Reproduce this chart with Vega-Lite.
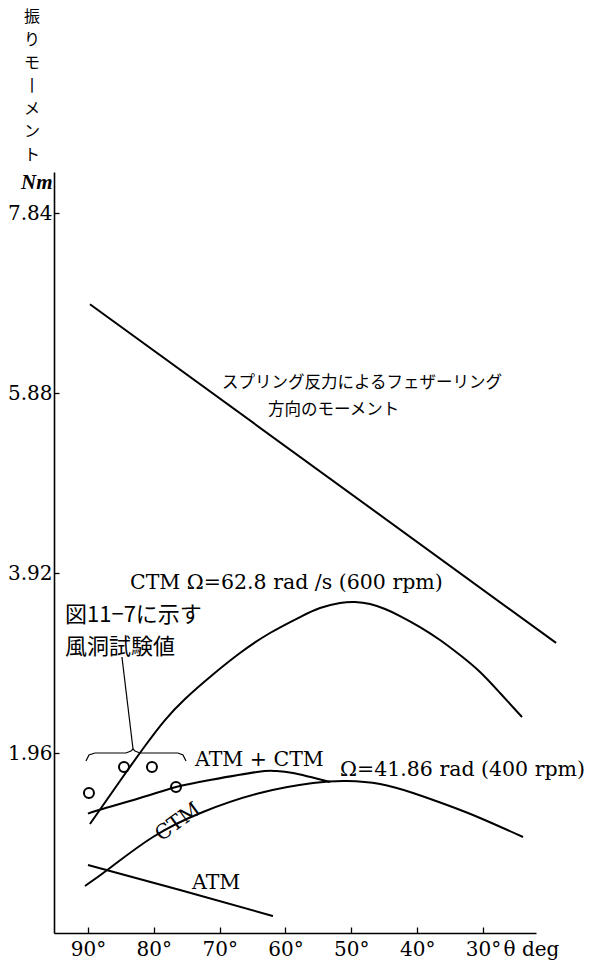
{
  "$schema": "https://vega.github.io/schema/vega-lite/v6.json",
  "width": 482,
  "height": 761,
  "autosize": {"type": "none"},
  "padding": {"left": 54, "top": 172, "right": 80, "bottom": 27},
  "background": "white",
  "config": {
    "view": {"stroke": null},
    "axis": {
      "grid": false,
      "domainColor": "black",
      "domainWidth": 1.6,
      "tickColor": "black",
      "tickWidth": 1.3,
      "labelColor": "black",
      "labelFont": "DejaVu Serif",
      "labelFontSize": 20,
      "titleColor": "black",
      "titleFont": "DejaVu Serif",
      "titleFontWeight": "normal",
      "titleFontSize": 20,
      "labelFlush": false,
      "labelOverlap": false
    }
  },
  "title": {
    "text": ["振", "り", "モ", "丨", "メ", "ン", "ト"],
    "anchor": "start",
    "frame": "group",
    "align": "center",
    "dx": -22,
    "offset": 8,
    "font": "Noto Sans CJK JP",
    "fontSize": 16,
    "fontWeight": "normal",
    "lineHeight": 23,
    "color": "black"
  },
  "datasets": {
    "curves": [
      {"s": "spring", "theta": 89.7, "v": 6.85},
      {"s": "spring", "theta": 18.9, "v": 3.16},

      {"s": "ctm600", "theta": 89.7, "v": 1.187},
      {"s": "ctm600", "theta": 85.14, "v": 1.656},
      {"s": "ctm600", "theta": 81.34, "v": 2.037},
      {"s": "ctm600", "theta": 78.3, "v": 2.32},
      {"s": "ctm600", "theta": 75.26, "v": 2.549},
      {"s": "ctm600", "theta": 71.47, "v": 2.789},
      {"s": "ctm600", "theta": 66.91, "v": 3.05},
      {"s": "ctm600", "theta": 62.35, "v": 3.268},
      {"s": "ctm600", "theta": 57.79, "v": 3.442},
      {"s": "ctm600", "theta": 54.76, "v": 3.54},
      {"s": "ctm600", "theta": 51.72, "v": 3.595},
      {"s": "ctm600", "theta": 49.44, "v": 3.606},
      {"s": "ctm600", "theta": 47.16, "v": 3.584},
      {"s": "ctm600", "theta": 44.88, "v": 3.529},
      {"s": "ctm600", "theta": 42.6, "v": 3.453},
      {"s": "ctm600", "theta": 39.57, "v": 3.333},
      {"s": "ctm600", "theta": 36.53, "v": 3.192},
      {"s": "ctm600", "theta": 33.49, "v": 3.028},
      {"s": "ctm600", "theta": 30.45, "v": 2.843},
      {"s": "ctm600", "theta": 27.41, "v": 2.614},
      {"s": "ctm600", "theta": 24.07, "v": 2.353},

      {"s": "atmctm", "theta": 90.0, "v": 1.3},
      {"s": "atmctm", "theta": 88.33, "v": 1.34},
      {"s": "atmctm", "theta": 82.1, "v": 1.47},
      {"s": "atmctm", "theta": 76.63, "v": 1.59},
      {"s": "atmctm", "theta": 71.47, "v": 1.667},
      {"s": "atmctm", "theta": 64.33, "v": 1.754},
      {"s": "atmctm", "theta": 61.59, "v": 1.765},
      {"s": "atmctm", "theta": 58.86, "v": 1.743},
      {"s": "atmctm", "theta": 53.24, "v": 1.645},

      {"s": "ctm400", "theta": 90.46, "v": 0.512},
      {"s": "ctm400", "theta": 86.66, "v": 0.708},
      {"s": "ctm400", "theta": 80.13, "v": 1.046},
      {"s": "ctm400", "theta": 72.53, "v": 1.318},
      {"s": "ctm400", "theta": 63.87, "v": 1.525},
      {"s": "ctm400", "theta": 55.82, "v": 1.634},
      {"s": "ctm400", "theta": 50.66, "v": 1.656},
      {"s": "ctm400", "theta": 45.64, "v": 1.623},
      {"s": "ctm400", "theta": 40.63, "v": 1.525},
      {"s": "ctm400", "theta": 35.46, "v": 1.394},
      {"s": "ctm400", "theta": 30.45, "v": 1.253},
      {"s": "ctm400", "theta": 23.92, "v": 1.046},

      {"s": "atm", "theta": 90.0, "v": 0.741},
      {"s": "atm", "theta": 76.02, "v": 0.468},
      {"s": "atm", "theta": 61.9, "v": 0.185}
    ],
    "brace": [
      {"s": "brace", "i": 1, "theta": 90.3, "v": 1.874},
      {"s": "brace", "i": 2, "theta": 89.85, "v": 1.939},
      {"s": "brace", "i": 3, "theta": 88.94, "v": 1.961},
      {"s": "brace", "i": 4, "theta": 84.23, "v": 1.961},
      {"s": "brace", "i": 5, "theta": 83.47, "v": 1.983},
      {"s": "brace", "i": 6, "theta": 83.16, "v": 2.004},
      {"s": "brace", "i": 7, "theta": 82.86, "v": 1.983},
      {"s": "brace", "i": 8, "theta": 82.1, "v": 1.961},
      {"s": "brace", "i": 9, "theta": 76.33, "v": 1.961},
      {"s": "brace", "i": 10, "theta": 75.57, "v": 1.939},
      {"s": "brace", "i": 11, "theta": 75.11, "v": 1.874},
      {"s": "pointer", "i": 1, "theta": 84.84, "v": 3.007},
      {"s": "pointer", "i": 2, "theta": 83.16, "v": 2.004}
    ],
    "tests": [
      {"theta": 89.85, "v": 1.525},
      {"theta": 84.53, "v": 1.808},
      {"theta": 80.28, "v": 1.808},
      {"theta": 76.63, "v": 1.59}
    ],
    "noteSmall": [
      {"label": "スプリング反力によるフェザーリング", "theta": 69.64, "v": 5.991},
      {"label": "方向のモーメント", "theta": 62.66, "v": 5.697}
    ],
    "noteLarge": [
      {"label": "図11−7に示す", "theta": 93.49, "v": 3.464},
      {"label": "風洞試験値", "theta": 93.49, "v": 3.115}
    ],
    "latin": [
      {"label": "CTM  Ω=62.8 rad /s (600 rpm)", "theta": 83.62, "v": 3.813},
      {"label": "ATM + CTM", "theta": 73.75, "v": 1.885},
      {"label": "Ω=41.86 rad (400 rpm)", "theta": 51.72, "v": 1.776},
      {"label": "ATM", "theta": 74.2, "v": 0.545}
    ],
    "tilted": [
      {"label": "CTM", "theta": 76.33, "v": 1.209}
    ]
  },
  "encoding": {
    "x": {
      "field": "theta",
      "type": "quantitative",
      "scale": {"domain": [21.95, 95.16], "reverse": true, "nice": false, "zero": false},
      "axis": {
        "values": [90, 80, 70, 60, 50, 40, 30],
        "labelExpr": "datum.value + '°'",
        "tickSize": -6,
        "labelPadding": 12,
        "title": "θ deg",
        "titleAngle": 0,
        "titleAlign": "left",
        "titleBaseline": "middle",
        "titleX": 449,
        "titleY": 16,
        "titleFontSize": 20
      }
    },
    "y": {
      "field": "v",
      "type": "quantitative",
      "scale": {"domain": [0, 8.29], "nice": false},
      "axis": {
        "values": [1.96, 3.92, 5.88, 7.84],
        "format": ".2f",
        "tickSize": -5,
        "labelPadding": 7,
        "title": "Nm",
        "titleFont": "Liberation Serif",
        "titleFontSize": 21,
        "titleAngle": 0,
        "titleAlign": "right",
        "titleBaseline": "middle",
        "titleX": -2,
        "titleY": 10,
        "titleFontStyle": "italic",
        "titleFontWeight": "bold"
      }
    }
  },
  "layer": [
    {
      "data": {"name": "curves"},
      "mark": {"type": "line", "interpolate": "natural", "strokeWidth": 2, "color": "black"},
      "encoding": {"detail": {"field": "s"}}
    },
    {
      "data": {"name": "brace"},
      "mark": {"type": "line", "strokeWidth": 1.2, "color": "black"},
      "encoding": {"detail": {"field": "s"}, "order": {"field": "i"}}
    },
    {
      "data": {"name": "tests"},
      "mark": {"type": "point", "shape": "circle", "filled": false, "size": 100, "strokeWidth": 2, "color": "black", "opacity": 1}
    },
    {
      "data": {"name": "noteSmall"},
      "mark": {"type": "text", "align": "left", "baseline": "middle", "font": "Noto Sans CJK JP", "fontSize": 16.5, "color": "black"},
      "encoding": {"text": {"field": "label"}}
    },
    {
      "data": {"name": "noteLarge"},
      "mark": {"type": "text", "align": "left", "baseline": "middle", "font": "Noto Sans CJK JP", "fontSize": 22, "color": "black"},
      "encoding": {"text": {"field": "label"}}
    },
    {
      "data": {"name": "latin"},
      "mark": {"type": "text", "align": "left", "baseline": "middle", "font": "DejaVu Serif", "fontSize": 20.5, "color": "black"},
      "encoding": {"text": {"field": "label"}}
    },
    {
      "data": {"name": "tilted"},
      "mark": {"type": "text", "align": "center", "baseline": "middle", "font": "DejaVu Serif", "fontSize": 20.5, "angle": -36, "color": "black"},
      "encoding": {"text": {"field": "label"}}
    }
  ]
}
